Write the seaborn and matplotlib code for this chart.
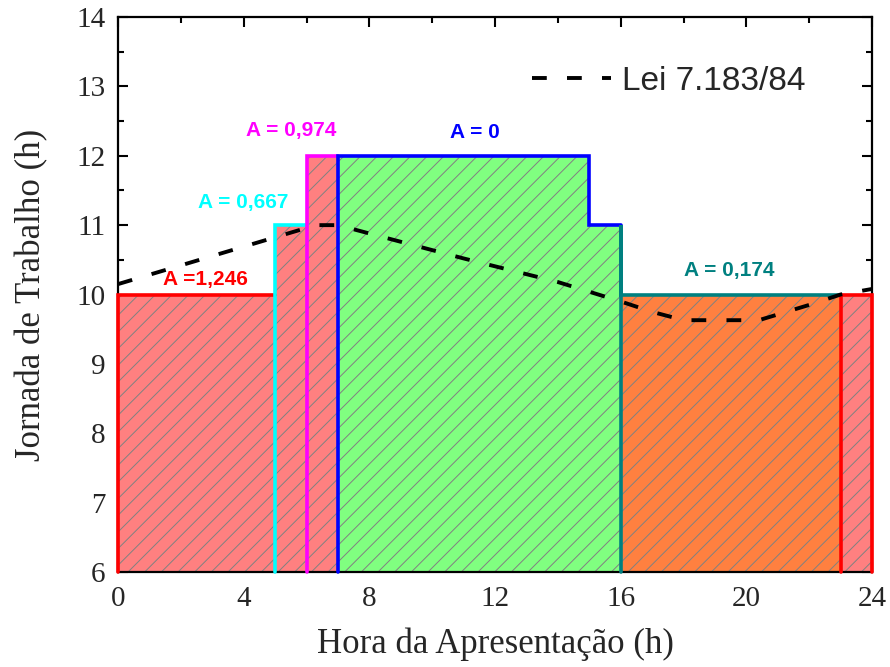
import numpy as np
import pandas as pd
import matplotlib
matplotlib.use("Agg")
import matplotlib.pyplot as plt
import seaborn as sns
from matplotlib.ticker import MultipleLocator

# ---- data ----
seg_start = [0, 5, 6, 7, 15, 16, 23]
seg_end = [5, 6, 7, 15, 16, 23, 24]
seg_height = [10, 11, 12, 12, 11, 10, 10]
seg_group = [0, 1, 2, 3, 3, 4, 5]
group_edge = ["#FF0000", "#00FFFF", "#FF00FF", "#0000FF", "#008080", "#FF0000"]
group_fill = ["#FF8080", "#FF8080", "#FF8080", "#80FF80", "#FF8040", "#FF8080"]

lei_hour = [0, 6.3, 7.0, 11.0, 14.0, 16.0, 17.0, 18.0, 20.4, 22.0, 23.0, 24.0]
lei_hours_value = [10.15, 11.0, 11.0, 10.52, 10.18, 9.90, 9.75, 9.63, 9.63, 9.85, 10.0, 10.08]

ann_text = ["A =1,246", "A = 0,667", "A = 0,974", "A = 0", "A = 0,174"]
ann_x = [2.77, 4.0, 5.5, 11.36, 19.46]
ann_y = [10.21, 11.33, 12.36, 12.33, 10.35]
ann_color = ["#FF0000", "#00FFFF", "#FF00FF", "#0000FF", "#008080"]

y_min = 6

sns.set_theme(style="ticks")
plt.rcParams["font.family"] = ["Liberation Serif", "DejaVu Serif"]
plt.rcParams["hatch.linewidth"] = 0.7

fig = plt.figure(figsize=(8.9, 6.67), dpi=100)
ax = fig.add_axes([0.1326, 0.1424, 0.9798 - 0.1326, 0.9745 - 0.1424])

# filled, hatched segments
for s, e, h, g in zip(seg_start, seg_end, seg_height, seg_group):
    ax.bar(s, h - y_min, width=e - s, bottom=y_min, align="edge",
           color=group_fill[g], edgecolor="#808080", linewidth=0,
           hatch="//", zorder=1)

# outlines per group
n_groups = len(group_edge)
for g in range(n_groups):
    idx = [i for i, gg in enumerate(seg_group) if gg == g]
    first = idx[0]
    prev_h = seg_height[first - 1] if first > 0 else seg_height[first]
    xs = [seg_start[first], seg_start[first]]
    ys = [y_min, max(prev_h, seg_height[first])]
    if max(prev_h, seg_height[first]) != seg_height[first]:
        xs.append(seg_start[first]); ys.append(seg_height[first])
    for i in idx:
        xs += [seg_start[i], seg_end[i]]
        ys += [seg_height[i], seg_height[i]]
    if g == n_groups - 1:
        xs.append(seg_end[idx[-1]]); ys.append(y_min)
    ax.plot(xs, ys, color=group_edge[g], lw=2.6, zorder=3,
            solid_joinstyle="miter", clip_on=False)

# law curve
df = pd.DataFrame({"hora": lei_hour, "jornada": lei_hours_value})
sns.lineplot(data=df, x="hora", y="jornada", ax=ax, color="black", lw=2.8,
             dashes=False, linestyle=(0, (3.8, 5.2)), label="Lei 7.183/84",
             zorder=4)

for t, x, y, c in zip(ann_text, ann_x, ann_y, ann_color):
    ax.text(x, y, t, color=c, ha="center", va="center", fontsize=15,
            fontweight="bold", family=["Liberation Sans", "DejaVu Sans"])

ax.set_xlim(0, 24)
ax.set_ylim(6, 14)
ax.xaxis.set_major_locator(MultipleLocator(4))
ax.xaxis.set_minor_locator(MultipleLocator(2))
ax.yaxis.set_major_locator(MultipleLocator(1))
ax.yaxis.set_minor_locator(MultipleLocator(0.5))
ax.tick_params(which="both", direction="in", top=True, right=True,
               width=1.5, color="black")
ax.tick_params(which="major", length=7, labelsize=21)
ax.tick_params(axis="x", which="major", pad=10)
ax.tick_params(axis="y", which="major", pad=9)
ax.tick_params(which="minor", length=4)
for sp in ax.spines.values():
    sp.set_linewidth(1.6)
    sp.set_color("black")

ax.set_xlabel("Hora da Apresentação (h)", fontsize=25, labelpad=11)
ax.set_ylabel("Jornada de Trabalho (h)", fontsize=25, labelpad=20)

leg = ax.legend(loc="center right", frameon=False, handlelength=2.35,
                prop={"family": ["Liberation Sans", "DejaVu Sans"], "size": 24},
                bbox_to_anchor=((805 - 118) / 754, 1 - (81 - 17) / 555),
                handletextpad=0.33, borderaxespad=0, borderpad=0)

fig.savefig("out.png", dpi=100)
